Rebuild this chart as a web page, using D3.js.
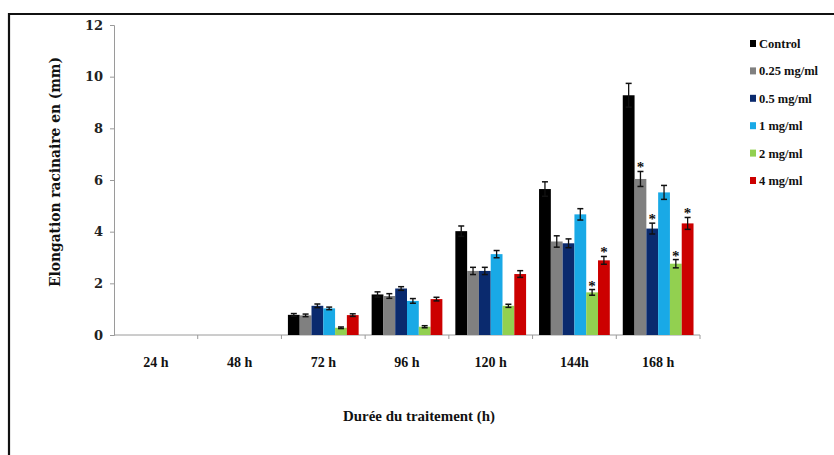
<!DOCTYPE html>
<html>
<head>
<meta charset="utf-8">
<script src="https://cdn.jsdelivr.net/npm/d3@7"></script>
<style>
  html, body { margin: 0; padding: 0; background: #fff; }
  svg { display: block; }
</style>
</head>
<body>
<svg id="chart" width="834" height="455"></svg>
<script>
// Treatment durations (x categories)
const durations = ["24 h", "48 h", "72 h", "96 h", "120 h", "144h", "168 h"];
// Concentration series
const seriesNames = ["Control", "0.25 mg/ml", "0.5 mg/ml", "1 mg/ml", "2 mg/ml", "4 mg/ml"];
const seriesColors = ["#000000", "#808080", "#0a2a6e", "#19a9e6", "#92d050", "#cc0000"];

// Mean root elongation (mm), one array per series, aligned with durations
const control   = [0, 0, 0.78, 1.57, 4.02, 5.65, 9.28];
const c025      = [0, 0, 0.76, 1.51, 2.48, 3.62, 6.04];
const c05       = [0, 0, 1.13, 1.80, 2.48, 3.55, 4.12];
const c1        = [0, 0, 1.03, 1.32, 3.13, 4.67, 5.52];
const c2        = [0, 0, 0.28, 0.32, 1.13, 1.65, 2.76];
const c4        = [0, 0, 0.77, 1.39, 2.36, 2.89, 4.32];

// Standard errors
const controlErr = [0, 0, 0.05, 0.10, 0.20, 0.28, 0.46];
const c025Err    = [0, 0, 0.05, 0.09, 0.14, 0.22, 0.29];
const c05Err     = [0, 0, 0.07, 0.07, 0.14, 0.17, 0.21];
const c1Err      = [0, 0, 0.05, 0.09, 0.14, 0.22, 0.27];
const c2Err      = [0, 0, 0.03, 0.04, 0.06, 0.11, 0.16];
const c4Err      = [0, 0, 0.05, 0.07, 0.13, 0.15, 0.23];

// Significance marks (true = starred)
const control_sig = [false, false, false, false, false, false, false];
const c025_sig    = [false, false, false, false, false, false, true];
const c05_sig     = [false, false, false, false, false, false, true];
const c1_sig      = [false, false, false, false, false, false, false];
const c2_sig      = [false, false, false, false, false, true, true];
const c4_sig      = [false, false, false, false, false, true, true];

const yTicks = [0, 2, 4, 6, 8, 10, 12];

const values = [control, c025, c05, c1, c2, c4];
const errors = [controlErr, c025Err, c05Err, c1Err, c2Err, c4Err];
const sigs = [control_sig, c025_sig, c05_sig, c1_sig, c2_sig, c4_sig];

const SERIF = "'Liberation Serif', Tinos, 'Times New Roman', serif";
const WIDE_SERIF = "'DejaVu Serif', serif";

const svg = d3.select("#chart");

// Outer frame (top and left edges)
svg.append("line").attr("x1", 9).attr("x2", 834).attr("y1", 14).attr("y2", 14)
  .attr("stroke", "#111").attr("stroke-width", 2.2);
svg.append("line").attr("x1", 9).attr("x2", 9).attr("y1", 13).attr("y2", 455)
  .attr("stroke", "#111").attr("stroke-width", 2.2);

const plot = { left: 114, right: 700, top: 25, bottom: 335 };

const x = d3.scaleBand().domain(durations).range([plot.left, plot.right]).padding(0);
const xs = d3.scaleBand().domain(seriesNames).range([0, x.bandwidth()])
  .paddingInner(0).paddingOuter(0.55);
const y = d3.scaleLinear().domain([0, 12]).range([plot.bottom, plot.top]);

// Y axis
const yAxis = svg.append("g").attr("transform", `translate(${plot.left},0)`)
  .call(d3.axisLeft(y).tickValues(yTicks).tickSize(4).tickPadding(7).tickFormat(d3.format("d")));
yAxis.select(".domain").attr("stroke", "#9a9a9a");
yAxis.selectAll(".tick line").attr("stroke", "#9a9a9a");
yAxis.selectAll(".tick text").attr("font-size", 13).attr("font-family", WIDE_SERIF)
  .attr("font-weight", "bold").attr("fill", "#222");

// X axis with ticks at category boundaries
const xAxisG = svg.append("g").attr("transform", `translate(0,${plot.bottom})`);
xAxisG.append("line").attr("x1", plot.left).attr("x2", plot.right).attr("y1", 0).attr("y2", 0)
  .attr("stroke", "#9a9a9a");
const boundaries = durations.map(d => x(d)).concat([x(durations[durations.length - 1]) + x.bandwidth()]);
xAxisG.selectAll("line.tk").data(boundaries.slice(1)).join("line").attr("class", "tk")
  .attr("x1", d => d).attr("x2", d => d).attr("y1", 0).attr("y2", 4).attr("stroke", "#9a9a9a");
xAxisG.selectAll("text").data(durations).join("text")
  .attr("x", d => x(d) + x.bandwidth() / 2).attr("y", 32)
  .attr("text-anchor", "middle").attr("font-size", 14)
  .attr("font-family", SERIF).attr("font-weight", "bold").attr("fill", "#111")
  .text(d => d);

// Bars, error bars and significance stars
const groups = svg.append("g").selectAll("g").data(durations).join("g")
  .attr("transform", d => `translate(${x(d)},0)`);

seriesNames.forEach((name, si) => {
  const bw = xs.bandwidth();
  groups.each(function(d, di) {
    const v = values[si][di];
    if (v <= 0) return;
    const g = d3.select(this);
    const bx = xs(name);
    g.append("rect").attr("x", bx).attr("y", y(v)).attr("width", bw)
      .attr("height", y(0) - y(v)).attr("fill", seriesColors[si]);
    const e = errors[si][di];
    const cx = bx + bw / 2;
    g.append("line").attr("x1", cx).attr("x2", cx).attr("y1", y(v - e)).attr("y2", y(v + e))
      .attr("stroke", "#111").attr("stroke-width", 1.3);
    [v - e, v + e].forEach(val => {
      g.append("line").attr("x1", cx - 3).attr("x2", cx + 3).attr("y1", y(val)).attr("y2", y(val))
        .attr("stroke", "#111").attr("stroke-width", 1.5);
    });
    if (sigs[si][di]) {
      g.append("text").attr("x", cx).attr("y", y(v + e) + 1)
        .attr("text-anchor", "middle").attr("font-size", 15)
        .attr("font-family", SERIF).attr("font-weight", "bold").attr("fill", "#111")
        .text("*");
    }
  });
});

// Axis titles
svg.append("text")
  .attr("transform", `translate(60,${(57 + 287) / 2}) rotate(-90)`)
  .attr("text-anchor", "middle").attr("font-size", 15)
  .attr("font-family", WIDE_SERIF).attr("font-weight", "bold").attr("fill", "#111")
  .attr("textLength", 230).attr("lengthAdjust", "spacingAndGlyphs")
  .text("Elongation  racinaire en (mm)");

svg.append("text").attr("x", 419).attr("y", 421).attr("text-anchor", "middle")
  .attr("font-size", 14.5).attr("font-family", SERIF).attr("font-weight", "bold").attr("fill", "#111")
  .attr("textLength", 152).attr("lengthAdjust", "spacingAndGlyphs")
  .text("Durée du traitement (h)");

// Legend
const legend = svg.append("g").attr("transform", "translate(750,44)");
const lg = legend.selectAll("g").data(seriesNames).join("g")
  .attr("transform", (d, i) => `translate(0,${i * 27.4})`);
lg.append("rect").attr("x", 0).attr("y", -4).attr("width", 6).attr("height", 7)
  .attr("fill", (d, i) => seriesColors[i]);
lg.append("text").attr("x", 9).attr("y", 4).attr("font-size", 12.5)
  .attr("font-family", SERIF).attr("font-weight", "bold").attr("fill", "#111")
  .text(d => d);
</script>
</body>
</html>
